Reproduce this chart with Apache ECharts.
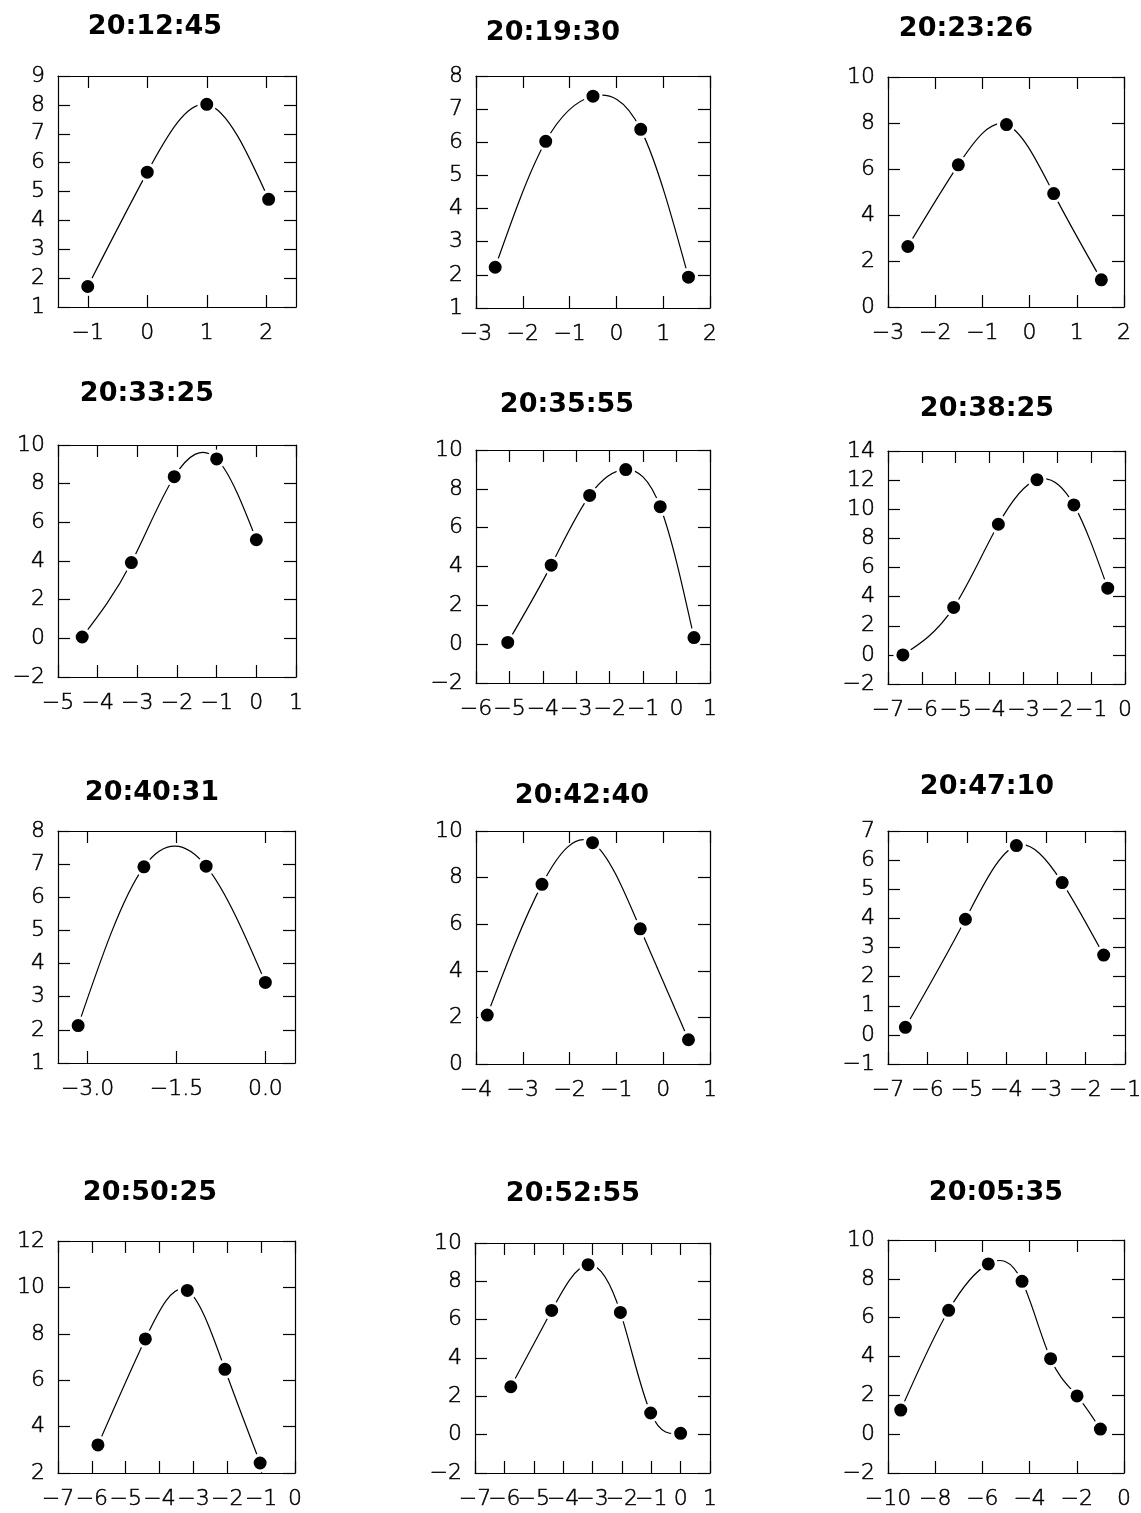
<!DOCTYPE html>
<html>
<head>
<meta charset="utf-8">
<script src="https://cdn.jsdelivr.net/npm/echarts@6/dist/echarts.min.js"></script>
<style>
html,body{margin:0;padding:0;background:#fff;}
#chart{width:1141px;height:1513px;}
</style>
</head>
<body>
<div id="chart"></div>
<script>
// ---------- DATA ----------
const titles = ['20:12:45','20:19:30','20:23:26','20:33:25','20:35:55','20:38:25',
                '20:40:31','20:42:40','20:47:10','20:50:25','20:52:55','20:05:35'];

const x1 = [-1.0, 0.0, 1.0, 2.04];
const y1 = [1.71, 5.67, 8.02, 4.73];
const x2 = [-2.59, -1.51, -0.5, 0.52, 1.54];
const y2 = [2.23, 6.03, 7.39, 6.39, 1.93];
const x3 = [-2.58, -1.51, -0.49, 0.51, 1.52];
const y3 = [2.63, 6.18, 7.93, 4.93, 1.18];
const x4 = [-4.39, -3.15, -2.07, -1.0, 0.0];
const y4 = [0.07, 3.92, 8.36, 9.28, 5.1];
const x5 = [-5.05, -3.75, -2.6, -1.52, -0.49, 0.52];
const y5 = [0.09, 4.07, 7.66, 8.99, 7.08, 0.34];
const x6 = [-6.56, -5.06, -3.74, -2.6, -1.51, -0.51];
const y6 = [0.0, 3.26, 8.97, 12.03, 10.3, 4.58];
const x7 = [-3.16, -2.05, -1.0, 0.0];
const y7 = [2.13, 6.92, 6.94, 3.43];
const x8 = [-3.76, -2.59, -1.51, -0.49, 0.54];
const y8 = [2.1, 7.71, 9.5, 5.8, 1.04];
const x9 = [-6.56, -5.04, -3.75, -2.59, -1.54];
const y9 = [0.26, 3.97, 6.5, 5.23, 2.74];
const x10 = [-5.82, -4.42, -3.18, -2.07, -1.03];
const y10 = [3.21, 7.78, 9.87, 6.47, 2.43];
const x11 = [-5.78, -4.39, -3.15, -2.05, -1.02, 0.0];
const y11 = [2.5, 6.48, 8.87, 6.38, 1.13, 0.07];
const x12 = [-9.46, -7.43, -5.75, -4.32, -3.11, -1.99, -1.0];
const y12 = [1.24, 6.38, 8.77, 7.87, 3.89, 1.97, 0.26];

// axis ranges [min, max]
const xRange = [[-1.5,2.5],[-3,2],[-3,2],[-5,1],[-6,1],[-7,0],[-3.5,0.5],[-4,1],[-7,-1],[-7,0],[-7,1],[-10,0]];
const yRange = [[1,9],[1,8],[0,10],[-2,10],[-2,10],[-2,14],[1,8],[0,10],[-1,7],[2,12],[-2,10],[-2,10]];

// tick label values
const xTicks1 = [-1,0,1,2];
const xTicks2 = [-3,-2,-1,0,1,2];
const xTicks3 = [-3,-2,-1,0,1,2];
const xTicks4 = [-5,-4,-3,-2,-1,0,1];
const xTicks5 = [-6,-5,-4,-3,-2,-1,0,1];
const xTicks6 = [-7,-6,-5,-4,-3,-2,-1,0];
const xTicks7 = [-3,-1.5,0];
const xTicks8 = [-4,-3,-2,-1,0,1];
const xTicks9 = [-7,-6,-5,-4,-3,-2,-1];
const xTicks10 = [-7,-6,-5,-4,-3,-2,-1,0];
const xTicks11 = [-7,-6,-5,-4,-3,-2,-1,0,1];
const xTicks12 = [-10,-8,-6,-4,-2,0];

const yTicks1 = [1,2,3,4,5,6,7,8,9];
const yTicks2 = [1,2,3,4,5,6,7,8];
const yTicks3 = [0,2,4,6,8,10];
const yTicks4 = [-2,0,2,4,6,8,10];
const yTicks5 = [-2,0,2,4,6,8,10];
const yTicks6 = [-2,0,2,4,6,8,10,12,14];
const yTicks7 = [1,2,3,4,5,6,7,8];
const yTicks8 = [0,2,4,6,8,10];
const yTicks9 = [-1,0,1,2,3,4,5,6,7];
const yTicks10 = [2,4,6,8,10,12];
const yTicks11 = [-2,0,2,4,6,8,10];
const yTicks12 = [-2,0,2,4,6,8,10];

const xDecimals = [0,0,0,0,0,0,1,0,0,0,0,0];

// ---------- LAYOUT ----------
const xs = [x1,x2,x3,x4,x5,x6,x7,x8,x9,x10,x11,x12];
const ys = [y1,y2,y3,y4,y5,y6,y7,y8,y9,y10,y11,y12];
const xTicks = [xTicks1,xTicks2,xTicks3,xTicks4,xTicks5,xTicks6,xTicks7,xTicks8,xTicks9,xTicks10,xTicks11,xTicks12];
const yTicks = [yTicks1,yTicks2,yTicks3,yTicks4,yTicks5,yTicks6,yTicks7,yTicks8,yTicks9,yTicks10,yTicks11,yTicks12];

const boxes = [
  [58,76,238,231],[476,76,234,232],[888,77,236,230],
  [58,445,238,232],[476,450,234,233],[888,451,237,233],
  [58,831,237,232],[476,831,234,233],[888,831,237,233],
  [58,1241,237,232],[475,1243,235,230],[888,1240,236,233]
];
const titlePos = [[155,26],[553,32],[966,28],[147,393],[567,404],[987,408],
                  [152,792],[582,795],[987,786],[150,1192],[573,1193],[996,1192]];

const BLACK = '#000';
const labelFont = {fontFamily:'DejaVu Sans', fontWeight:200, fontSize:22, color:BLACK,
                   textBorderColor:BLACK, textBorderWidth:0.5};

function fmt(dec){
  return function(v){
    const s = Math.abs(v).toFixed(dec);
    return (v < 0 ? '\u2212' : '') + s;
  };
}

// slopes of a natural cubic spline through the measured points (rendering helper)
function splineSlopes(X, Y){
  const n = X.length, h = [], M = new Array(n).fill(0);
  for (let k = 0; k < n-1; k++) h.push(X[k+1]-X[k]);
  if (n > 2) {
    const a = [], b = [], c = [], d = [];
    for (let k = 1; k < n-1; k++) {
      a.push(h[k-1]); b.push(2*(h[k-1]+h[k])); c.push(h[k]);
      d.push(6*((Y[k+1]-Y[k])/h[k] - (Y[k]-Y[k-1])/h[k-1]));
    }
    const m = b.length;
    for (let k = 1; k < m; k++) {
      const w = a[k]/b[k-1];
      b[k] -= w*c[k-1]; d[k] -= w*d[k-1];
    }
    const sol = new Array(m);
    sol[m-1] = d[m-1]/b[m-1];
    for (let k = m-2; k >= 0; k--) sol[k] = (d[k]-c[k]*sol[k+1])/b[k];
    for (let k = 0; k < m; k++) M[k+1] = sol[k];
  }
  const s = [];
  for (let k = 0; k < n-1; k++) s.push((Y[k+1]-Y[k])/h[k] - h[k]*(2*M[k]+M[k+1])/6);
  s.push((Y[n-1]-Y[n-2])/h[n-2] + h[n-2]*(M[n-2]+2*M[n-1])/6);
  return s;
}

const grid = [], xAxis = [], yAxis = [], series = [], title = [];
for (let i = 0; i < 12; i++) {
  const b = boxes[i];
  const X = xs[i], Y = ys[i];
  const S = splineSlopes(X, Y);
  const pts = X.map((v,k) => [v, Y[k]]);
  const evenLabels = xTicks[i].filter((v,k) => k % 2 === 0);
  const oddLabels = xTicks[i].filter((v,k) => k % 2 === 1);
  grid.push({left:b[0], top:b[1], width:b[2], height:b[3], containLabel:false, outerBoundsMode:'none'});
  const line = {show:true, onZero:false, lineStyle:{color:BLACK, width:1.2}};
  const tickX = {show:true, inside:true, length:12, customValues:xTicks[i], lineStyle:{color:BLACK, width:1.2}};
  const tickY = {show:true, inside:true, length:12, customValues:yTicks[i], lineStyle:{color:BLACK, width:1.2}};
  // bottom axis (line, ticks, every other label)
  xAxis.push({gridIndex:i, type:'value', position:'bottom', min:xRange[i][0], max:xRange[i][1],
    axisLine:line, axisTick:tickX, splitLine:{show:false},
    axisLabel:Object.assign({show:true, customValues:evenLabels, margin:15, formatter:fmt(xDecimals[i]),
      hideOverlap:false}, labelFont)});
  // top axis
  xAxis.push({gridIndex:i, type:'value', position:'top', min:xRange[i][0], max:xRange[i][1],
    axisLine:line, axisTick:tickX, splitLine:{show:false}, axisLabel:{show:false}});
  // bottom axis carrying the remaining labels (so crowded labels are all kept)
  xAxis.push({gridIndex:i, type:'value', position:'bottom', offset:0, min:xRange[i][0], max:xRange[i][1],
    axisLine:{show:false, onZero:false}, axisTick:{show:false}, splitLine:{show:false},
    axisLabel:Object.assign({show:oddLabels.length > 0, customValues:oddLabels, margin:15, formatter:fmt(xDecimals[i]),
      hideOverlap:false}, labelFont)});
  yAxis.push({gridIndex:i, type:'value', position:'left', min:yRange[i][0], max:yRange[i][1],
    axisLine:line, axisTick:tickY, splitLine:{show:false},
    axisLabel:Object.assign({show:true, customValues:yTicks[i], margin:13, formatter:fmt(0),
      hideOverlap:false}, labelFont)});
  yAxis.push({gridIndex:i, type:'value', position:'right', min:yRange[i][0], max:yRange[i][1],
    axisLine:line, axisTick:tickY, splitLine:{show:false}, axisLabel:{show:false}});

  // smooth curve through the points (cubic spline segments mapped through the axes)
  series.push({
    type:'custom', xAxisIndex:3*i, yAxisIndex:2*i, data: pts, silent:true, z:2,
    clip:false,
    renderItem: function(params, api){
      const k = params.dataIndex;
      if (k >= X.length-1) return null;
      const hk = X[k+1]-X[k];
      const p0 = api.coord([X[k], Y[k]]);
      const p1 = api.coord([X[k]+hk/3, Y[k]+S[k]*hk/3]);
      const p2 = api.coord([X[k+1]-hk/3, Y[k+1]-S[k+1]*hk/3]);
      const p3 = api.coord([X[k+1], Y[k+1]]);
      return {type:'bezierCurve',
        shape:{x1:p0[0], y1:p0[1], x2:p3[0], y2:p3[1], cpx1:p1[0], cpy1:p1[1], cpx2:p2[0], cpy2:p2[1]},
        style:{stroke:BLACK, fill:null, lineWidth:1.2}};
    }
  });
  // data markers
  series.push({
    type:'scatter', xAxisIndex:3*i, yAxisIndex:2*i, data: pts, silent:true, z:3,
    symbol:'circle', symbolSize:16,
    itemStyle:{color:BLACK, borderColor:'#fff', borderWidth:3, opacity:1},
    emphasis:{disabled:true}
  });
  title.push({text:titles[i], left:titlePos[i][0], top:titlePos[i][1]-13, textAlign:'center', padding:0,
    textStyle:{fontFamily:'DejaVu Sans', fontWeight:'bold', fontSize:27, color:BLACK}});
}

const chart = echarts.init(document.getElementById('chart'), null, {renderer:'canvas'});
chart.setOption({
  animation:false,
  backgroundColor:'#fff',
  title, grid, xAxis, yAxis, series
});
</script>
</body>
</html>
